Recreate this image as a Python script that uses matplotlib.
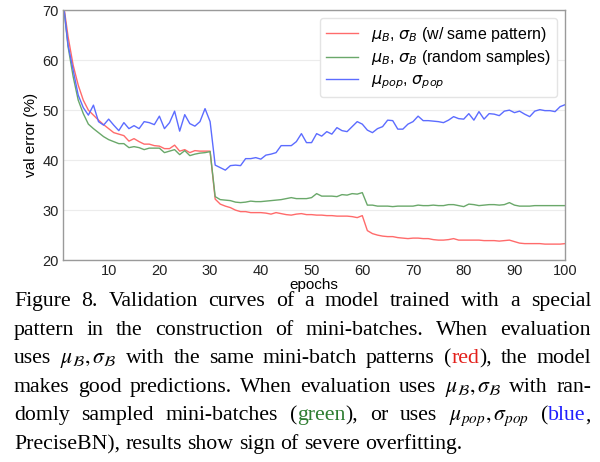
import matplotlib
matplotlib.use("Agg")
import matplotlib.pyplot as plt
import numpy as np

epochs = np.arange(1, 101)

red_vals = [
    72.0, 64.7, 59.0, 55.0, 52.0, 50.0, 49.0, 48.0, 47.1, 46.3,
    45.5, 45.2, 44.9, 43.8, 44.3, 43.7, 43.2, 43.2, 42.9, 42.8,
    42.3, 42.3, 43.0, 41.8, 42.1, 41.5, 41.9, 41.8, 41.8, 41.8,
    32.2, 31.2, 30.8, 30.5, 30.0, 29.7, 29.7, 29.5, 29.5, 29.5,
    29.4, 29.2, 29.5, 29.3, 29.1, 29.0, 29.2, 29.3, 29.1, 29.1,
    29.0, 29.0, 28.9, 28.9, 28.8, 28.8, 28.8, 28.7, 28.5, 28.9,
    25.9, 25.3, 25.0, 24.8, 24.7, 24.7, 24.5, 24.4, 24.3, 24.4,
    24.4, 24.3, 24.3, 24.1, 24.0, 24.0, 24.1, 24.3, 24.0, 24.0,
    24.0, 24.0, 24.0, 23.9, 23.9, 23.9, 23.8, 23.9, 24.0, 23.7,
    23.4, 23.3, 23.3, 23.3, 23.3, 23.2, 23.2, 23.2, 23.2, 23.3,
]
green_vals = [
    72.0, 62.7, 56.7, 52.0, 49.3, 47.2, 46.3, 45.5, 44.7, 44.1,
    43.7, 43.3, 43.3, 42.5, 42.7, 42.5, 42.1, 42.4, 42.4, 42.4,
    41.5, 41.8, 42.1, 41.1, 41.9, 40.9, 41.2, 41.4, 41.5, 41.7,
    32.7, 32.1, 32.0, 31.9, 31.6, 31.5, 31.6, 31.8, 31.7, 31.7,
    31.8, 31.9, 32.0, 32.1, 32.3, 32.5, 32.3, 32.3, 32.3, 32.5,
    33.3, 32.8, 32.8, 32.8, 32.7, 33.1, 33.0, 33.3, 33.2, 33.5,
    31.0, 31.0, 30.8, 30.8, 30.8, 30.7, 30.8, 30.8, 30.8, 30.8,
    31.0, 30.9, 30.9, 31.0, 30.9, 30.9, 31.1, 31.1, 30.9, 30.7,
    31.2, 31.1, 30.9, 31.0, 31.1, 31.1, 31.0, 31.1, 31.5, 31.0,
    30.8, 30.8, 30.8, 30.9, 30.9, 30.9, 30.9, 30.9, 30.9, 30.9,
]
blue_vals = [
    72.0, 63.0, 58.0, 53.0, 50.5, 49.0, 51.0, 47.7, 47.0, 48.2,
    47.0, 45.9, 47.5, 46.3, 46.9, 46.3, 47.7, 47.5, 47.1, 48.8,
    46.3, 47.5, 49.8, 45.8, 49.1, 47.3, 46.8, 47.7, 50.3, 47.7,
    39.0, 38.5, 38.0, 38.9, 39.0, 38.9, 40.3, 40.3, 40.5, 40.2,
    41.0, 41.2, 41.5, 42.9, 42.9, 42.9, 43.7, 45.3, 43.5, 43.5,
    45.3, 44.8, 45.7, 45.2, 46.5, 45.9, 45.7, 46.7, 47.7, 47.2,
    46.0, 45.5, 46.3, 46.7, 48.0, 47.9, 46.2, 46.2, 47.2, 47.7,
    48.8, 47.9, 47.9, 47.8, 47.7, 47.5, 48.0, 48.7, 48.3, 48.2,
    49.3, 48.0, 49.7, 48.2, 49.3, 49.2, 48.9, 49.8, 50.0, 49.5,
    49.8, 49.2, 48.7, 49.8, 50.1, 49.9, 49.9, 49.7, 50.7, 51.1,
]

curve_names = [
    r"$\mu_B$, $\sigma_B$ (w/ same pattern)",
    r"$\mu_B$, $\sigma_B$ (random samples)",
    r"$\mu_{pop}$, $\sigma_{pop}$",
]
curve_colors = ["#ff6b6b", "#6aa86a", "#5c6cff"]

x_ticks = [10, 20, 30, 40, 50, 60, 70, 80, 90, 100]
y_ticks = [20, 30, 40, 50, 60, 70]

MU_B = r"$\mu_\mathcal{B},\sigma_\mathcal{B}$"
MU_POP = r"$\mu_{pop},\sigma_{pop}$"
caption_lines = [
    "Figure 8. Validation curves of a model trained with a special",
    "pattern in the construction of mini-batches. When evaluation",
    "uses " + MU_B + " with the same mini-batch patterns ([red]red[/]), the model",
    "makes good predictions. When evaluation uses " + MU_B + " with ran-",
    "domly sampled mini-batches ([green]green[/]), or uses " + MU_POP + " ([blue]blue[/],",
    "PreciseBN), results show sign of severe overfitting.",
]
caption_colors = {"red": "#e3201b", "green": "#2f7d32", "blue": "#1f1fff"}

plt.rcParams["font.family"] = ["Liberation Sans", "DejaVu Sans"]

fig = plt.figure(figsize=(6.0, 4.62), dpi=100)
ax = fig.add_axes([0.105, 0.437, 0.837, 0.541])

for vals, name, col in zip([red_vals, green_vals, blue_vals], curve_names, curve_colors):
    ax.plot(epochs, vals, color=col, linewidth=1.0, label=name)

ax.set_xlim(1, 100)
ax.set_ylim(20, 70)
ax.set_xticks(x_ticks)
ax.set_yticks(y_ticks)
ax.tick_params(labelsize=10.5, length=0, pad=3, labelcolor="#222222")
ax.grid(axis="y", color="#ececec", linewidth=0.8)
ax.set_axisbelow(True)
for sp in ax.spines.values():
    sp.set_color("#9a9a9a")
    sp.set_linewidth(1.0)

ax.set_xlabel("epochs", fontsize=11, labelpad=0)
ax.set_ylabel("val error (%)", fontsize=11, labelpad=3)
ax.legend(loc="upper right", fontsize=11.5, handlelength=2.0, framealpha=1.0,
          edgecolor="#e4e4e4", borderpad=0.4, labelspacing=0.3,
          borderaxespad=0.5, handletextpad=0.8)


# caption: justified lines, drawn word by word
def split_words(line):
    words = []
    for w in line.split(" "):
        pieces = []
        rest = w
        while rest:
            if rest.startswith("[") and "]" in rest and rest[1:rest.index("]")] in caption_colors:
                key = rest[1:rest.index("]")]
                rest = rest[rest.index("]") + 1:]
                end = rest.index("[/]")
                pieces.append((rest[:end], caption_colors[key]))
                rest = rest[end + 3:]
            else:
                j = len(rest)
                for k in caption_colors:
                    p = rest.find("[" + k + "]")
                    if p > 0:
                        j = min(j, p)
                pieces.append((rest[:j], "black"))
                rest = rest[j:]
        words.append(pieces)
    return words


renderer = fig.canvas.get_renderer()
W, H = 600.0, 462.0
x_left, x_right = 14.0, 591.0
y_first, line_step = 306.0, 28.6
cap_size = 15.7

for i, line in enumerate(caption_lines):
    words = split_words(line)
    y = 1 - (y_first + i * line_step) / H
    artists = []
    widths = []
    for pieces in words:
        row = []
        wsum = 0.0
        for txt, col in pieces:
            t = fig.text(0, y, txt, fontsize=cap_size, color=col,
                         family=["Liberation Serif"], math_fontfamily="stix",
                         va="baseline", ha="left")
            w = t.get_window_extent(renderer).width
            row.append((t, w))
            wsum += w
        artists.append(row)
        widths.append(wsum)
    if i < len(caption_lines) - 1:
        gap = (x_right - x_left - sum(widths)) / (len(words) - 1)
    else:
        gap = 0.25 * cap_size * 100 / 72
    x = x_left
    for row, wsum in zip(artists, widths):
        xx = x
        for t, w in row:
            t.set_x(xx / W)
            xx += w
        x += wsum + gap

fig.savefig("out.png", dpi=100)
